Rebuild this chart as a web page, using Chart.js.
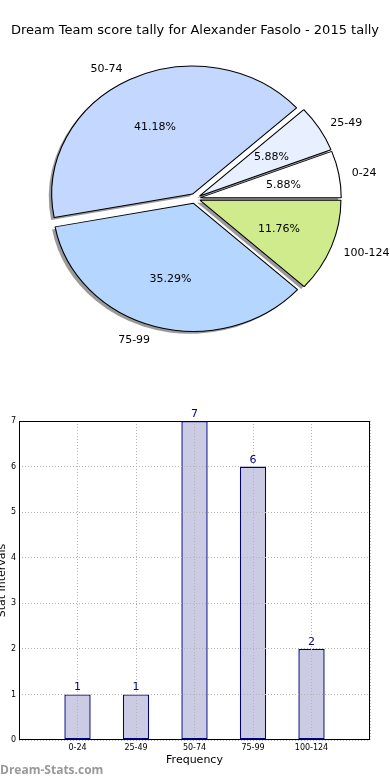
<!DOCTYPE html>
<html>
<head>
<meta charset="utf-8">
<script src="https://cdn.jsdelivr.net/npm/chart.js@4.4.0/dist/chart.umd.min.js"></script>
<style>
  html, body { margin: 0; padding: 0; background: #fff; }
  #wrap { position: relative; width: 390px; height: 780px; overflow: hidden; }
  #pieBox { position: absolute; left: 0; top: 0; width: 390px; height: 380px; }
  #barBox { position: absolute; left: -4px; top: 380px; width: 394px; height: 400px; }
  #mark { position: absolute; left: 0; top: 762px; font: bold 12px "Open Sans"; color: #999; line-height: 16px; }
</style>
</head>
<body>
<div id="wrap">
  <div id="pieBox"><canvas id="pie"></canvas></div>
  <div id="barBox"><canvas id="bar"></canvas></div>
  <div id="mark">Dream-Stats.com</div>
</div>
<script>
// data
var chartTitle = 'Dream Team score tally for Alexander Fasolo - 2015 tally';
var categories = ['0-24', '25-49', '50-74', '75-99', '100-124'];
var frequency = [1, 1, 7, 6, 2];
var pieColors = ['#ffffff', '#e8f0ff', '#c4d8ff', '#b4d6ff', '#cfeb8b'];
var yTicks = [0, 1, 2, 3, 4, 5, 6, 7];

var FONT = 'DejaVu Sans';

// pie looks: matplotlib draws it a bit wider than tall, exploded, with a shadow
var stretchX = 1.1;
var explode = 5;
var shadowDx = -3, shadowDy = 2.5;

// matplotlib goes counter-clockwise from 3 o'clock, chart.js goes clockwise,
// so feed the slices in reverse order
var pieLabels = categories.slice().reverse();
var pieValues = frequency.slice().reverse();
var pieFill = pieColors.slice().reverse();
var total = frequency.reduce(function(a, b) { return a + b; }, 0);

var piePlugin = {
	id: 'mplPie',
	beforeDatasetsDraw: function(chart) {
		var ctx = chart.ctx;
		var arcs = chart.getDatasetMeta(0).data;
		var cx = arcs[0].x, cy = arcs[0].y;
		ctx.save();
		ctx.translate(cx + shadowDx, cy + shadowDy);
		ctx.scale(stretchX, 1);
		ctx.fillStyle = '#9a9a9a';
		arcs.forEach(function(a) {
			var mid = (a.startAngle + a.endAngle) / 2;
			var ox = Math.cos(mid) * explode, oy = Math.sin(mid) * explode;
			ctx.beginPath();
			ctx.moveTo(ox, oy);
			ctx.arc(ox, oy, a.outerRadius, a.startAngle, a.endAngle);
			ctx.closePath();
			ctx.fill();
		});
		ctx.restore();
	},
	beforeDatasetDraw: function(chart, args) {
		var ctx = chart.ctx;
		var arcs = args.meta.data;
		arcs.forEach(function(a) {
			var mid = (a.startAngle + a.endAngle) / 2;
			ctx.save();
			ctx.translate(a.x, a.y);
			ctx.scale(stretchX, 1);
			ctx.translate(Math.cos(mid) * explode, Math.sin(mid) * explode);
			ctx.translate(-a.x, -a.y);
			a.draw(ctx);
			ctx.restore();
		});
		return false;
	},
	afterDatasetsDraw: function(chart) {
		var ctx = chart.ctx;
		var arcs = chart.getDatasetMeta(0).data;
		ctx.save();
		ctx.font = '11px "' + FONT + '"';
		ctx.fillStyle = '#000';
		ctx.textBaseline = 'middle';
		arcs.forEach(function(a, i) {
			var mid = (a.startAngle + a.endAngle) / 2;
			var r = a.outerRadius;
			var c = Math.cos(mid), s = Math.sin(mid);
			// category label outside
			var d = explode + 1.1 * r;
			ctx.textAlign = c >= 0 ? 'left' : 'right';
			ctx.fillText(pieLabels[i], a.x + stretchX * c * d - 1, a.y + s * d + 1.5);
			// percentage inside
			d = explode + 0.6 * r;
			ctx.textAlign = 'center';
			ctx.fillText((pieValues[i] / total * 100).toFixed(2) + '%', a.x + stretchX * c * d, a.y + s * d + 1.5);
		});
		ctx.restore();
	}
};

new Chart(document.getElementById('pie'), {
	type: 'pie',
	data: {
		labels: pieLabels,
		datasets: [{
			data: pieValues,
			backgroundColor: pieFill,
			borderColor: '#000',
			borderWidth: 1,
			radius: 128,
			hoverOffset: 0
		}]
	},
	options: {
		responsive: true,
		maintainAspectRatio: false,
		animation: false,
		events: [],
		rotation: 90,
		layout: { padding: { top: 0, bottom: 21, left: 0, right: 0 } },
		plugins: {
			legend: { display: false },
			tooltip: { enabled: false },
			title: {
				display: true,
				text: chartTitle,
				color: '#000',
				font: { family: FONT, size: 13, weight: 'normal' },
				padding: { top: 22.5, bottom: 0 }
			}
		}
	},
	plugins: [piePlugin]
});

// bar chart: empty slot each side, like matplotlib's x range
var barLabels = [''].concat(categories, ['']);
var barValues = [null].concat(frequency, [null]);

var barPlugin = {
	id: 'mplBar',
	afterDraw: function(chart) {
		var ctx = chart.ctx, a = chart.chartArea;
		ctx.save();
		// frame all round
		ctx.strokeStyle = '#000';
		ctx.lineWidth = 1;
		ctx.strokeRect(Math.round(a.left) + 0.5, Math.round(a.top) + 0.5,
			Math.round(a.right - a.left) - 1, Math.round(a.bottom - a.top) - 1);
		// value over each bar
		var meta = chart.getDatasetMeta(0);
		ctx.font = '11px "' + FONT + '"';
		ctx.fillStyle = '#00008b';
		ctx.textAlign = 'center';
		ctx.textBaseline = 'alphabetic';
		meta.data.forEach(function(b, i) {
			if (barValues[i] == null) return;
			ctx.fillStyle = '#fff';
			var w = ctx.measureText(String(barValues[i])).width;
			ctx.fillRect(b.x - w / 2, b.y - 12, w, 8);
			ctx.fillStyle = '#00008b';
			ctx.fillText(String(barValues[i]), b.x, b.y - 4);
		});
		ctx.restore();
	}
};

new Chart(document.getElementById('bar'), {
	type: 'bar',
	data: {
		labels: barLabels,
		datasets: [{
			data: barValues,
			backgroundColor: '#cbcbe4',
			borderColor: '#000080',
			borderWidth: 1.4,
			borderSkipped: false,
			categoryPercentage: 1,
			barPercentage: 0.45
		}]
	},
	options: {
		responsive: true,
		maintainAspectRatio: false,
		animation: false,
		events: [],
		layout: { padding: { top: 41, bottom: 13, left: 0, right: 20 } },
		plugins: {
			legend: { display: false },
			tooltip: { enabled: false }
		},
		scales: {
			x: {
				type: 'category',
				offset: false,
				grid: { color: '#b4b4b4', drawTicks: false, offset: false, z: 1 },
				border: { display: false, dash: [1, 2] },
				ticks: { color: '#000', font: { family: FONT, size: 8 }, padding: 3, maxRotation: 0, autoSkip: false },
				title: { display: true, text: 'Frequency', color: '#000', font: { family: FONT, size: 11 }, padding: 0 },
				afterFit: function(s) { s.height = 27; }
			},
			y: {
				min: 0,
				max: 7,
				afterBuildTicks: function(s) { s.ticks = yTicks.map(function(v) { return { value: v }; }); },
				grid: { color: '#b4b4b4', drawTicks: false, z: 1 },
				border: { display: false, dash: [1, 2] },
				ticks: { color: '#000', font: { family: FONT, size: 8 }, padding: 3 },
				title: { display: true, text: 'Stat Intervals', color: '#000', font: { family: FONT, size: 11 }, padding: 0 },
				afterFit: function(s) { s.width = 23; }
			}
		}
	},
	plugins: [barPlugin]
});
</script>
</body>
</html>
